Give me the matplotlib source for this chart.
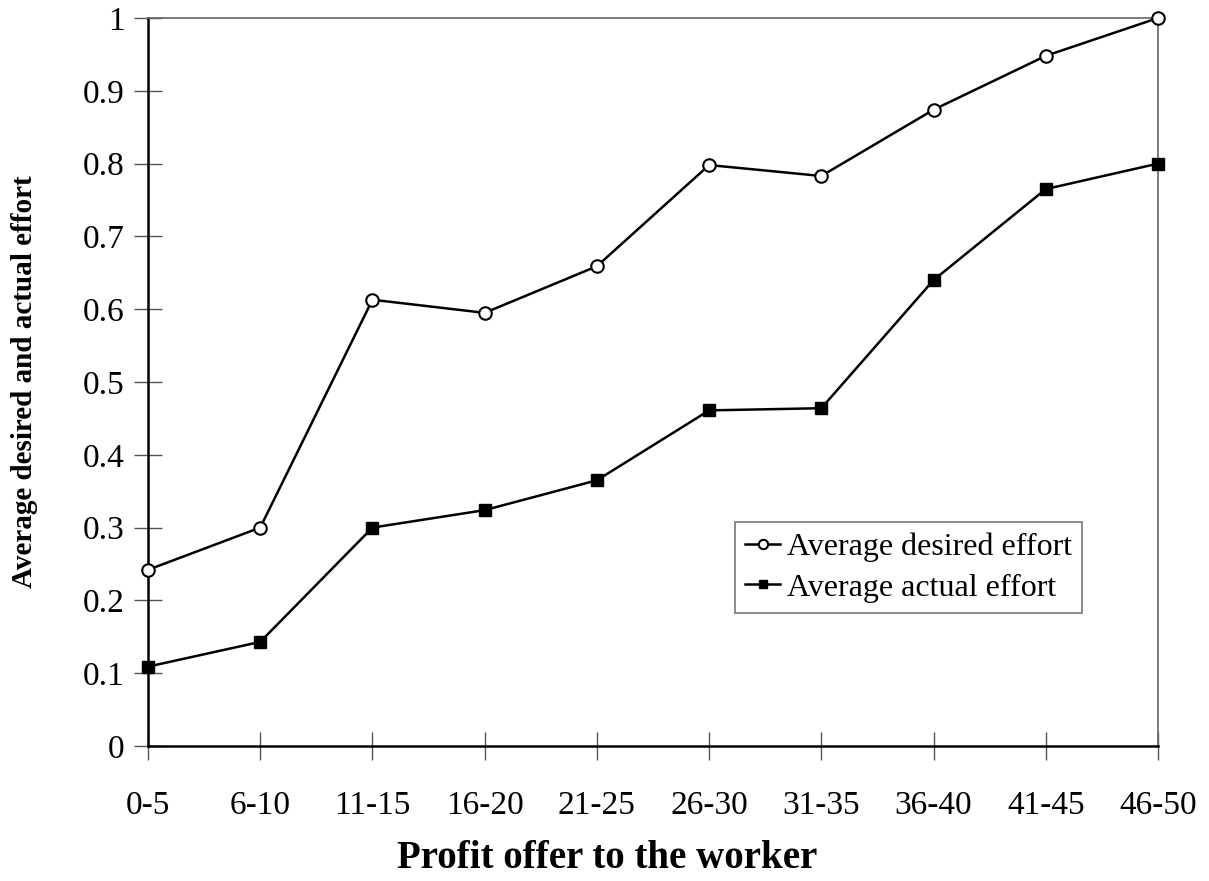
import matplotlib
matplotlib.use("Agg")
import matplotlib.pyplot as plt

categories = ["0-5", "6-10", "11-15", "16-20", "21-25", "26-30", "31-35", "36-40", "41-45", "46-50"]
desired = [0.242, 0.300, 0.613, 0.595, 0.659, 0.798, 0.783, 0.874, 0.948, 1.000]
actual = [0.109, 0.143, 0.300, 0.324, 0.365, 0.461, 0.464, 0.640, 0.765, 0.800]
yticks = [0, 0.1, 0.2, 0.3, 0.4, 0.5, 0.6, 0.7, 0.8, 0.9, 1]
ytick_labels = ["0", "0.1", "0.2", "0.3", "0.4", "0.5", "0.6", "0.7", "0.8", "0.9", "1"]

plt.rcParams['font.family'] = ['Liberation Serif', 'DejaVu Serif']

fig = plt.figure(figsize=(12.09, 8.81), dpi=100)
ax = fig.add_axes([148/1209, 1 - 746/881, (1158 - 148)/1209, (746 - 18)/881])

x = list(range(len(categories)))
ax.plot(x, desired, color='black', lw=1.8, marker='o', ms=9, mfc='white', mec='black', mew=1.5,
        label='Average desired effort', clip_on=False, zorder=3)
ax.plot(x, actual, color='black', lw=1.8, marker='s', ms=8, mfc='black', mec='black',
        label='Average actual effort', clip_on=False, zorder=3)

ax.set_xlim(0, len(categories) - 1)
ax.set_ylim(0, 1)
ax.set_xticks(x)
ax.set_xticklabels(categories, fontsize=24)
ax.set_yticks(yticks)
ax.set_yticklabels(ytick_labels, fontsize=24)
ax.tick_params(axis='x', direction='inout', length=20, width=1.0, color='#555555', pad=22)
ax.tick_params(axis='y', direction='inout', length=20, width=1.0, color='#555555', pad=7)

ax.spines['left'].set_linewidth(1.8)
ax.spines['bottom'].set_linewidth(1.8)
ax.spines['left'].set_color('black')
ax.spines['bottom'].set_color('black')
for s in ['top', 'right']:
    ax.spines[s].set_linewidth(1.2)
    ax.spines[s].set_color('#666666')

ax.set_xlabel('Profit offer to the worker', fontsize=28, fontweight='bold', labelpad=14)
ax.xaxis.label.set_x((607 - 148) / 1010)
ax.set_ylabel('Average desired and actual effort', fontsize=21, fontweight='bold', labelpad=32)

leg = ax.legend(loc='upper left', bbox_to_anchor=((735 - 148)/1010, (746 - 522)/728),
                fontsize=23, frameon=True, fancybox=False, edgecolor='#555555',
                handlelength=1.1, handletextpad=0.2, borderpad=0.32, labelspacing=0.36,
                markerscale=0.75, borderaxespad=0)
leg.get_frame().set_linewidth(1.2)

fig.savefig('out.png', dpi=100, facecolor='white')
